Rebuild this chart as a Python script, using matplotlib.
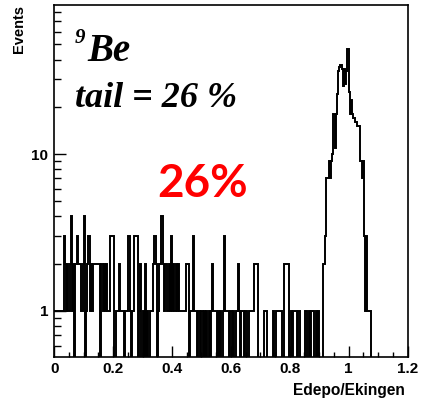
import numpy as np
import matplotlib
matplotlib.use("Agg")
import matplotlib.pyplot as plt
from matplotlib.ticker import FixedLocator, FixedFormatter, NullFormatter

# histogram of Edepo/Ekingen, bin width 0.004 over 0..1.2
bin_width = 0.004
n_bins = 300

# low-energy tail, bins 0..227
tail_counts = [
    1, 1, 1, 1, 1, 1, 1, 1, 3, 2, 1, 2, 1, 2, 4, 1, 2, 0, 2, 3,
    2, 2, 2, 1, 2, 4, 0, 1, 2, 3, 1, 2, 1, 2, 2, 2, 2, 2, 2, 0,
    2, 1, 2, 1, 2, 1, 1, 3, 3, 3, 3, 0, 1, 1, 1, 2, 1, 1, 1, 0,
    1, 1, 1, 3, 1, 0, 1, 1, 3, 3, 3, 0, 1, 2, 0, 1, 0, 2, 0, 1,
    0, 1, 1, 1, 2, 3, 2, 0, 1, 2, 2, 4, 2, 1, 2, 2, 1, 2, 1, 3,
    1, 2, 1, 2, 1, 2, 1, 1, 1, 1, 1, 1, 2, 2, 0, 1, 1, 1, 3, 1,
    1, 0, 1, 1, 0, 1, 0, 1, 0, 1, 0, 1, 0, 1, 2, 1, 1, 1, 0, 1,
    0, 1, 0, 1, 3, 1, 1, 1, 0, 1, 1, 0, 1, 0, 1, 1, 2, 1, 0, 1,
    1, 0, 1, 1, 0, 1, 1, 1, 1, 1, 2, 2, 2, 0, 0, 0, 0, 0, 1, 1,
    1, 0, 0, 0, 0, 0, 1, 0, 1, 1, 1, 1, 1, 0, 0, 2, 2, 2, 2, 0,
    0, 1, 0, 1, 1, 1, 0, 1, 1, 0, 0, 0, 0, 1, 1, 0, 1, 0, 1, 1,
    1, 0, 1, 0, 1, 0, 0, 0,
]
# full-energy peak, bins 228..268
peak_start = 228
peak_counts = [
    2, 2, 3, 7, 7, 9, 7, 9, 10, 18, 11, 18, 24, 34, 36, 37, 35, 27, 35, 28,
    34, 47, 25, 18, 22, 18, 17, 16, 16, 15, 15, 15, 9, 7, 9, 3, 1, 3, 1, 1,
    1,
]

counts = np.zeros(n_bins)
counts[:len(tail_counts)] = tail_counts
counts[peak_start:peak_start + len(peak_counts)] = peak_counts
edges = np.arange(n_bins + 1) * bin_width

xticks = [0, 0.2, 0.4, 0.6, 0.8, 1.0, 1.2]
xtick_labels = ["0", "0.2", "0.4", "0.6", "0.8", "1", "1.2"]
yticks = [1, 10]
ytick_labels = ["1", "10"]

W, H = 424, 405
fig = plt.figure(figsize=(W / 100, H / 100), dpi=100)
ax = fig.add_axes([54.3 / W, 1 - 357 / H, 353.2 / W, 352 / H])

# empty bins pushed below the frame so the outline drops to the bottom
shown = np.where(counts > 0, counts, 0.05)
ax.stairs(shown, edges, color="black", linewidth=1.4, baseline=None)

ax.set_yscale("log")
ax.set_xlim(0, 1.2)
ax.set_ylim(0.509, 89)

ax.xaxis.set_major_locator(FixedLocator(xticks))
ax.xaxis.set_major_formatter(FixedFormatter(xtick_labels))
ax.xaxis.set_minor_locator(FixedLocator(np.arange(0.05, 1.2, 0.05)))
ax.yaxis.set_major_locator(FixedLocator(yticks))
ax.yaxis.set_major_formatter(FixedFormatter(ytick_labels))
ax.yaxis.set_minor_locator(FixedLocator([0.6, 0.7, 0.8, 0.9] + list(range(2, 10)) + list(range(20, 90, 10))))
ax.yaxis.set_minor_formatter(NullFormatter())

ax.tick_params(which="both", direction="in", top=False, right=False, width=1.0, color="black")
ax.tick_params(axis="y", which="major", length=8.5, pad=4.3)
ax.tick_params(axis="y", which="minor", length=5)
ax.tick_params(axis="x", which="major", length=8, pad=3.6)
ax.tick_params(axis="x", which="minor", length=3.6)
for lab in ax.get_xticklabels() + ax.get_yticklabels():
    lab.set_fontfamily("Liberation Sans")
    lab.set_fontweight("bold")
    lab.set_fontsize(11)

for s in ax.spines.values():
    s.set_linewidth(1.2)
    s.set_color("black")

sans = dict(family="Liberation Sans", weight="bold")
fig.text(19 / W, 1 - 5 / H, "Events", rotation=90, ha="center", va="top", fontsize=10.5, **sans)
fig.text(405 / W, 1 - 390 / H, "Edepo/Ekingen", ha="right", va="center", fontsize=11.2, **sans)

serif = dict(family="Liberation Serif", style="italic", weight="bold", color="black")
fig.text(75 / W, 1 - 43 / H, "9", fontsize=15, va="baseline", **serif)
fig.text(87 / W, 1 - 61 / H, "Be", fontsize=28, va="baseline", **serif)
fig.text(75 / W, 1 - 107 / H, "tail = 26 %", fontsize=26, va="baseline", **serif)

fig.text(157 / W, 1 - 197 / H, "26%", fontsize=33, family="Lato", weight="bold",
         color="#ff0000", va="baseline")

fig.savefig("out.png", dpi=100)
